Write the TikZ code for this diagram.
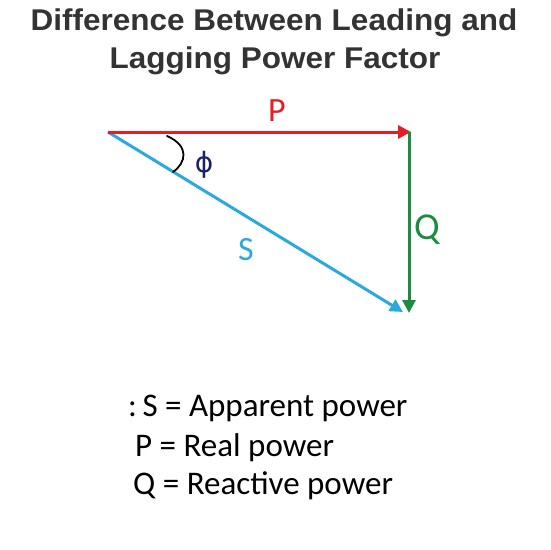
\documentclass[tikz,border=0pt]{standalone}
\usepackage{fontspec}
\setmainfont{Carlito}
\newfontfamily\titlefont{Liberation Sans}
\newfontfamily\greekfont{DejaVu Sans}
\usetikzlibrary{arrows.meta}
\definecolor{pred}{HTML}{E21F26}
\definecolor{qgreen}{HTML}{1B8C40}
\definecolor{scyan}{HTML}{2AA9E0}
\definecolor{phinavy}{HTML}{1B2366}
\definecolor{titlegray}{HTML}{333333}
\tikzset{
  vec/.style={line width=3pt,-{Triangle[length=13pt,width=13pt]}},
  lbl/.style={inner sep=0pt,anchor=base,font=\fontsize{34}{36}\selectfont},
  ttl/.style={anchor=base,inner sep=0pt,text=titlegray,font=\titlefont\bfseries\fontsize{30}{34}\selectfont,xscale=1.05},
  defn/.style={anchor=base west,inner sep=0pt,font=\fontsize{33}{40}\selectfont}
}
\begin{document}
\begin{tikzpicture}[x=1pt,y=-1pt]
            \useasboundingbox (0,0) rectangle (550,550);
            \node[ttl] (title1) at (274,30) {Difference Between Leading and};
            \node[ttl] (title2) at (275,68) {Lagging Power Factor};
            \coordinate (O) at (108,132);
            \coordinate (A) at (411,132);
            \coordinate (A2) at (409,132);
            \coordinate (B) at (409,313);
            \coordinate (C) at (403,312);
            \draw[vec,scyan] (O) -- (C);
            \draw[vec,pred] (O) -- (A);
            \draw[vec,qgreen] (A2) -- (B);
            \draw[line width=1.8pt,line cap=round] (167,136) .. controls (190,146) and (186,163) .. (173,172);
            \node[lbl,text=pred] (P) at (277,121) {P};
            \node[lbl,text=qgreen,font=\fontsize{38}{40}\selectfont] (Q) at (427,239) {Q};
            \node[lbl,text=scyan] (S) at (246,260) {S};
            \node[lbl,text=phinavy,font=\greekfont\fontsize{28}{30}\selectfont] (phi) at (204,172) {ϕ};
            \node[defn] (defS) at (128,416) {:\,S = Apparent power};
            \node[defn] (defP) at (135,456) {P = Real power};
            \node[defn] (defQ) at (133,494) {Q = Reactive power};
        \end{tikzpicture}
\end{document}
